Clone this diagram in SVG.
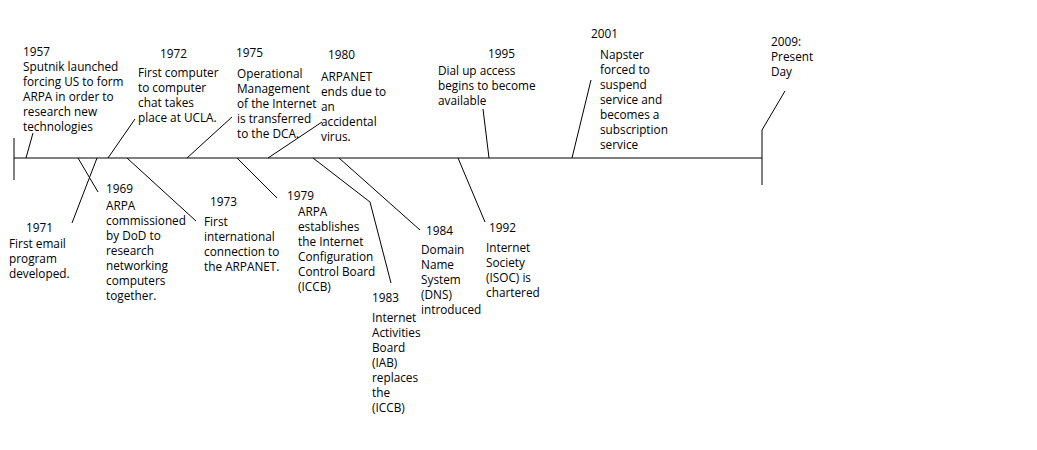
<svg xmlns="http://www.w3.org/2000/svg" width="1037" height="450" viewBox="0 0 1037 450">
<style>
text{font-family:"Open Sans","Noto Sans","Liberation Sans",sans-serif;font-size:11.8px;fill:#000}
.c line,.c polyline{stroke:#000;stroke-width:1;fill:none}
</style>
<rect width="1037" height="450" fill="#fff"/>
<g id="connectors" class="c">
<line x1="14" y1="158" x2="762" y2="158"/>
<line x1="14" y1="138" x2="14" y2="180"/>
<polyline points="762,185 762,130 785,91"/>
<line x1="26" y1="158" x2="33" y2="133"/>
<line x1="108" y1="158" x2="135" y2="119"/>
<line x1="187" y1="158" x2="232" y2="117"/>
<line x1="268" y1="158" x2="322" y2="122"/>
<line x1="489" y1="158" x2="483" y2="109"/>
<line x1="572" y1="158" x2="591" y2="80"/>
<line x1="78" y1="158" x2="98" y2="192"/>
<line x1="97" y1="158" x2="72" y2="223"/>
<line x1="127" y1="158" x2="196" y2="221"/>
<line x1="237" y1="158" x2="277" y2="198"/>
<polyline points="313,158 370,202 391,283"/>
<line x1="339" y1="158" x2="420" y2="230"/>
<line x1="458" y1="158" x2="485" y2="222"/>
</g>
<g id="e1957"><text x="23" y="56">1957</text><text x="23" y="71"><tspan x="23">Sputnik launched</tspan><tspan x="23" dy="15">forcing US to form</tspan><tspan x="23" dy="15">ARPA in order to</tspan><tspan x="23" dy="15">research new</tspan><tspan x="23" dy="15">technologies</tspan></text></g>
<g id="e1972"><text x="160" y="58">1972</text><text><tspan x="138" y="77">First computer</tspan><tspan x="138" dy="15">to computer</tspan><tspan x="138" dy="15">chat takes</tspan><tspan x="138" dy="15">place at UCLA.</tspan></text></g>
<g id="e1975"><text x="236" y="57">1975</text><text><tspan x="237" y="78">Operational</tspan><tspan x="237" dy="15">Management</tspan><tspan x="237" dy="15">of the Internet</tspan><tspan x="237" dy="15">is transferred</tspan><tspan x="237" dy="15">to the DCA.</tspan></text></g>
<g id="e1980"><text x="328" y="59">1980</text><text><tspan x="321" y="81">ARPANET</tspan><tspan x="321" dy="15">ends due to</tspan><tspan x="321" dy="15">an</tspan><tspan x="321" dy="15">accidental</tspan><tspan x="321" dy="15">virus.</tspan></text></g>
<g id="e1995"><text x="488" y="58">1995</text><text><tspan x="438" y="75">Dial up access</tspan><tspan x="438" dy="15">begins to become</tspan><tspan x="438" dy="15">available</tspan></text></g>
<g id="e2001"><text x="591" y="38">2001</text><text><tspan x="600" y="59">Napster</tspan><tspan x="600" dy="15">forced to</tspan><tspan x="600" dy="15">suspend</tspan><tspan x="600" dy="15">service and</tspan><tspan x="600" dy="15">becomes a</tspan><tspan x="600" dy="15">subscription</tspan><tspan x="600" dy="15">service</tspan></text></g>
<g id="e2009"><text><tspan x="771" y="46">2009:</tspan><tspan x="771" dy="15">Present</tspan><tspan x="771" dy="15">Day</tspan></text></g>
<g id="e1969"><text x="106" y="193">1969</text><text><tspan x="106" y="210">ARPA</tspan><tspan x="106" dy="15">commissioned</tspan><tspan x="106" dy="15">by DoD to</tspan><tspan x="106" dy="15">research</tspan><tspan x="106" dy="15">networking</tspan><tspan x="106" dy="15">computers</tspan><tspan x="106" dy="15">together.</tspan></text></g>
<g id="e1971"><text x="26" y="232">1971</text><text><tspan x="9" y="248">First email</tspan><tspan x="9" dy="15">program</tspan><tspan x="9" dy="15">developed.</tspan></text></g>
<g id="e1973"><text x="210" y="206">1973</text><text><tspan x="204" y="226">First</tspan><tspan x="204" dy="15">international</tspan><tspan x="204" dy="15">connection to</tspan><tspan x="204" dy="15">the ARPANET.</tspan></text></g>
<g id="e1979"><text x="287" y="200">1979</text><text><tspan x="298" y="216">ARPA</tspan><tspan x="298" dy="15">establishes</tspan><tspan x="298" dy="15">the Internet</tspan><tspan x="298" dy="15">Configuration</tspan><tspan x="298" dy="15">Control Board</tspan><tspan x="298" dy="15">(ICCB)</tspan></text></g>
<g id="e1983"><text x="372" y="302">1983</text><text><tspan x="372" y="322">Internet</tspan><tspan x="372" dy="15">Activities</tspan><tspan x="372" dy="15">Board</tspan><tspan x="372" dy="15">(IAB)</tspan><tspan x="372" dy="15">replaces</tspan><tspan x="372" dy="15">the</tspan><tspan x="372" dy="15">(ICCB)</tspan></text></g>
<g id="e1984"><text x="426" y="235">1984</text><text><tspan x="421" y="254">Domain</tspan><tspan x="421" dy="15">Name</tspan><tspan x="421" dy="15">System</tspan><tspan x="421" dy="15">(DNS)</tspan><tspan x="421" dy="15">introduced</tspan></text></g>
<g id="e1992"><text x="489" y="232">1992</text><text><tspan x="486" y="252">Internet</tspan><tspan x="486" dy="15">Society</tspan><tspan x="486" dy="15">(ISOC) is</tspan><tspan x="486" dy="15">chartered</tspan></text></g>
</svg>
